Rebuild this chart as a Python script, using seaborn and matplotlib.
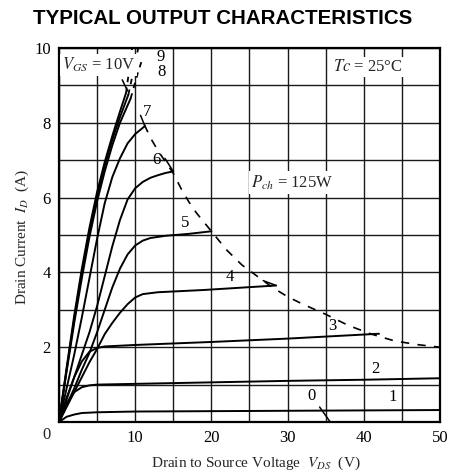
import numpy as np
import pandas as pd
import seaborn as sns
import matplotlib.pyplot as plt

# gate voltage curves: drain voltage (V) / drain current (A)
v_10 = [0, 1, 2, 3, 4, 5, 6, 7, 8, 8.8]
i_10 = [0, 1.45, 2.85, 4.1, 5.2, 6.15, 6.95, 7.65, 8.3, 8.8]
v_9 = [0, 1, 2, 3, 4, 5, 6, 7, 8, 9.1]
i_9 = [0, 1.4, 2.75, 4.0, 5.1, 6.05, 6.85, 7.55, 8.15, 8.75]
v_8 = [0, 1, 2, 3, 4, 5, 6, 7, 8, 9.4]
i_8 = [0, 1.35, 2.65, 3.85, 4.95, 5.9, 6.7, 7.4, 8.0, 8.65]
v_7 = [0, 1, 2, 3, 4, 5, 6, 7, 8, 9, 10, 11.2]
i_7 = [0, 0.9, 1.8, 2.8, 3.85, 4.9, 5.85, 6.55, 7.05, 7.45, 7.7, 7.9]
v_6 = [0, 1, 2, 3, 4, 5, 6, 7, 8, 9, 10, 11, 12, 13, 14, 15]
i_6 = [0, 0.6, 1.2, 1.8, 2.4, 3.1, 3.9, 4.7, 5.4, 5.95, 6.25, 6.42, 6.53, 6.6, 6.66, 6.7]
v_5 = [0, 1, 2, 3, 4, 5, 6, 7, 8, 9, 10, 11, 12, 14, 17, 20]
i_5 = [0, 0.45, 0.9, 1.4, 1.85, 2.4, 3.0, 3.6, 4.1, 4.48, 4.72, 4.85, 4.92, 4.98, 5.03, 5.1]
v_4 = [0, 1, 2, 3, 4, 5, 6, 7, 8, 9, 10, 11, 13, 19, 28.5]
i_4 = [0, 0.4, 0.8, 1.2, 1.6, 1.95, 2.35, 2.65, 2.92, 3.15, 3.33, 3.42, 3.47, 3.53, 3.65]
v_3 = [0, 1, 2, 3, 4, 5, 6, 10, 20, 30, 42]
i_3 = [0, 0.65, 1.2, 1.62, 1.88, 1.98, 2.02, 2.06, 2.14, 2.23, 2.36]
v_2 = [0, 1, 2, 3, 4, 5, 10, 20, 30, 40, 50]
i_2 = [0, 0.5, 0.8, 0.93, 0.98, 1.0, 1.02, 1.06, 1.1, 1.13, 1.17]
v_1 = [0, 1, 2, 3, 5, 10, 20, 30, 50]
i_1 = [0, 0.14, 0.2, 0.24, 0.26, 0.28, 0.29, 0.3, 0.32]

# dashed continuations above 9 A
v_10_ext = [8.8, 9.6]
i_10_ext = [8.8, 10.0]
v_9_ext = [9.1, 10.0, 10.4]
i_9_ext = [8.75, 9.6, 10.0]
v_8_ext = [9.4, 10.3, 11.0]
i_8_ext = [8.65, 9.3, 9.75]

# power dissipation limit (dashed)
v_pch = [11.2, 12, 13, 14, 15, 16, 17, 18, 19, 20, 22, 24, 26, 28, 30, 32, 35, 38, 41, 44, 47, 50]
i_pch = [7.95, 7.6, 7.25, 6.95, 6.65, 6.25, 5.9, 5.6, 5.35, 5.1, 4.6, 4.2, 3.9, 3.6, 3.35,
         3.15, 2.88, 2.58, 2.35, 2.17, 2.07, 2.0]

# curve labels and their positions
curve_labels = ['9', '8', '7', '6', '5', '4', '3', '2', '1', '0']
label_v = [13.3, 13.5, 11.6, 12.8, 16.5, 22.4, 35.9, 41.5, 43.8, 33.1]
label_i = [9.77, 9.35, 8.3, 7.0, 5.31, 3.89, 2.57, 1.43, 0.66, 0.7]

# short pointer strokes from labels to curves
ptr_v0 = [8.3, 10.7, 13.9, 34.2, 26.8]
ptr_i0 = [9.15, 8.2, 7.05, 0.4, 3.78]
ptr_v1 = [9.0, 11.3, 15.0, 35.6, 28.5]
ptr_i1 = [8.85, 7.9, 6.7, 0.0, 3.65]

x_ticks = [0, 10, 20, 30, 40, 50]
x_minor = [5, 15, 25, 35, 45]
y_ticks = [0, 2, 4, 6, 8, 10]
y_minor = [1, 3, 5, 7, 9]

sns.set_theme(style="white")
plt.rcParams['font.family'] = ['Liberation Serif', 'DejaVu Serif']
plt.rcParams['mathtext.fontset'] = 'stix'

solid = [('10', v_10, i_10), ('9', v_9, i_9), ('8', v_8, i_8), ('7', v_7, i_7),
         ('6', v_6, i_6), ('5', v_5, i_5), ('4', v_4, i_4), ('3', v_3, i_3),
         ('2', v_2, i_2), ('1', v_1, i_1)]
df = pd.concat([pd.DataFrame({'vds': v, 'id': i, 'vgs': name}) for name, v, i in solid])

dashed = [('10', v_10_ext, i_10_ext), ('9', v_9_ext, i_9_ext), ('8', v_8_ext, i_8_ext)]
df_ext = pd.concat([pd.DataFrame({'vds': v, 'id': i, 'vgs': name}) for name, v, i in dashed])
df_pch = pd.DataFrame({'vds': v_pch, 'id': i_pch})

fig = plt.figure(figsize=(4.51, 4.74), dpi=100)
ax = fig.add_axes([0.1308, 0.1097, 0.8448, 0.789])

sns.lineplot(data=df, x='vds', y='id', units='vgs', estimator=None, sort=False,
             color='black', lw=1.4, ax=ax)
sns.lineplot(data=df_ext, x='vds', y='id', units='vgs', estimator=None, sort=False,
             color='black', lw=1.3, linestyle=(0, (3, 3)), ax=ax)
sns.lineplot(data=df_pch, x='vds', y='id', estimator=None, sort=False,
             color='black', lw=1.2, linestyle=(0, (5, 5)), ax=ax)

for x0, y0, x1, y1 in zip(ptr_v0, ptr_i0, ptr_v1, ptr_i1):
    ax.plot([x0, x1], [y0, y1], color='black', lw=1.1)

for t, x, y in zip(curve_labels, label_v, label_i):
    ax.text(x, y, t, fontsize=12, ha='center', va='center', color='black')

box = dict(facecolor='white', edgecolor='none', pad=1.5)
ax.text(0.4, 9.55, r'$V_{GS}$ = 10V', fontsize=12, ha='left', va='center', bbox=box)
ax.text(36.0, 9.48, r'$Tc$ = 25°C', fontsize=12, ha='left', va='center', bbox=box)
ax.text(25.2, 6.4, r'$P_{ch}$ = 125W', fontsize=12, ha='left', va='center', bbox=box)

ax.set_xlim(0, 50)
ax.set_ylim(0, 10)
ax.set_xticks(x_ticks)
ax.set_xticks(x_minor, minor=True)
ax.set_yticks(y_ticks)
ax.set_yticks(y_minor, minor=True)
ax.set_xticklabels([''] + [str(t) for t in x_ticks[1:]], fontsize=12)
ax.set_yticklabels([''] + [str(t) for t in y_ticks[1:]], fontsize=12)
ax.tick_params(which='both', length=0, pad=6, colors='black')
ax.grid(which='both', color='#1a1a1a', lw=1.0)
ax.set_axisbelow(True)
for s in ax.spines.values():
    s.set_color('black')
    s.set_linewidth(1.6)
ax.set_xlabel('')
ax.set_ylabel('')

fig.text(0.102, 0.082, '0', fontsize=12, ha='center', va='center')
fig.text(0.494, 0.962, 'TYPICAL OUTPUT CHARACTERISTICS', fontsize=14.8, weight='bold',
         family='Liberation Sans', color='black', ha='center', va='center')
fig.text(0.049, 0.5, r'Drain Current  $I_D$  (A)', fontsize=11, rotation=90,
         ha='center', va='center')
fig.text(0.568, 0.023, r'Drain to Source Voltage  $V_{DS}$  (V)', fontsize=11,
         ha='center', va='center')

fig.savefig('out.png', dpi=100, facecolor='white')
